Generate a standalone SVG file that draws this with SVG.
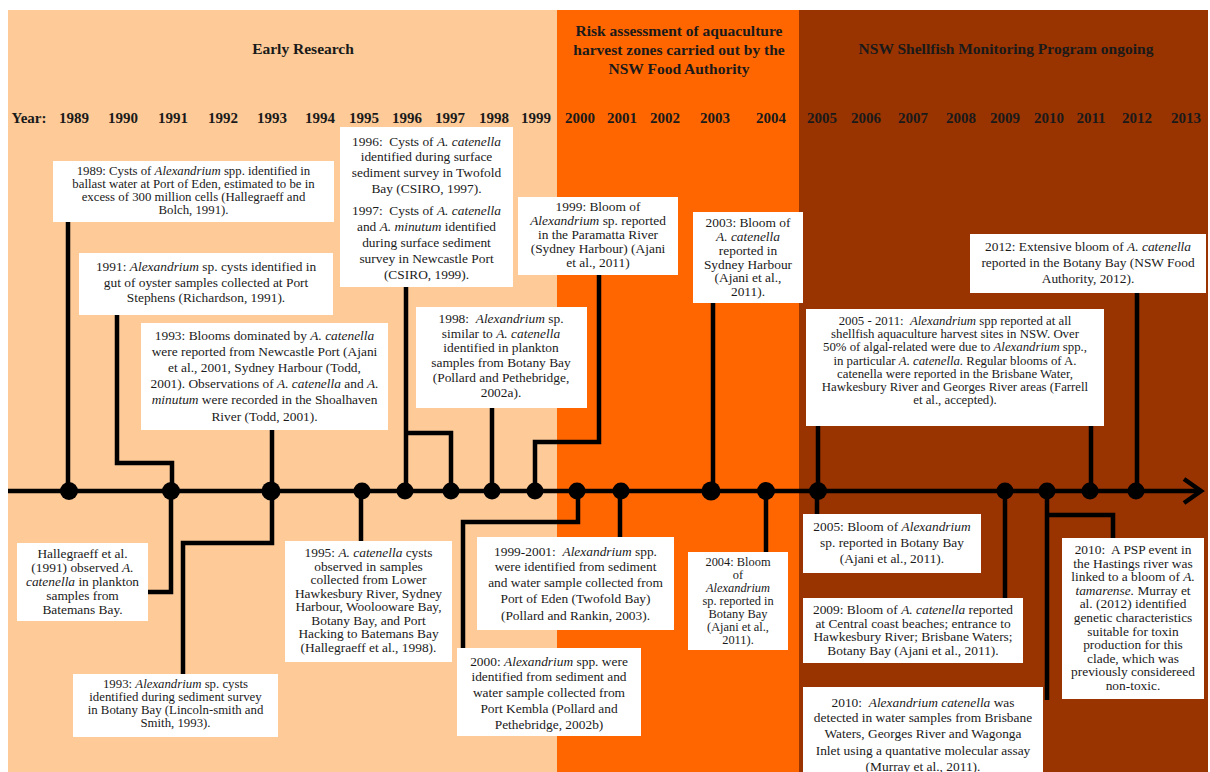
<svg xmlns="http://www.w3.org/2000/svg" width="1210" height="772" viewBox="0 0 1210 772">
<style>
.t{font-family:"Liberation Serif","Times New Roman",serif;font-size:13.4px;fill:#1a1a1a;text-anchor:middle}
.s{font-size:12.8px}
.xs{font-size:12.4px}
.i{font-style:italic}
.h{font-family:"Liberation Serif","Times New Roman",serif;font-weight:bold;font-size:15.5px;fill:#1a1a1a;text-anchor:middle}
.yr{font-family:"Liberation Serif","Times New Roman",serif;font-weight:bold;font-size:15px;fill:#1a1a1a;text-anchor:middle}
.box{fill:#ffffff}
.c{stroke:#000;stroke-width:4.5;fill:none;stroke-linejoin:miter;stroke-linecap:butt}
.dot{fill:#000}
</style>
<g id="background">
<rect x="8" y="10" width="549" height="762" fill="#FDCA98"/>
<rect x="557" y="10" width="242" height="762" fill="#FF6600"/>
<rect x="799" y="10" width="409" height="762" fill="#993300"/>
</g>
<g id="headers">
<text class="h" x="303" y="54">Early Research</text>
<text class="h" x="679" y="36">Risk assessment of aquaculture</text>
<text class="h" x="679" y="55">harvest zones carried out by the</text>
<text class="h" x="679" y="74">NSW Food Authority</text>
<text class="h" x="1006" y="54">NSW Shellfish Monitoring Program ongoing</text>
</g>
<g id="years">
<text class="yr" x="29" y="123">Year:</text>
<text class="yr" x="74" y="123">1989</text>
<text class="yr" x="123" y="123">1990</text>
<text class="yr" x="173" y="123">1991</text>
<text class="yr" x="223" y="123">1992</text>
<text class="yr" x="272" y="123">1993</text>
<text class="yr" x="320" y="123">1994</text>
<text class="yr" x="364" y="123">1995</text>
<text class="yr" x="407" y="123">1996</text>
<text class="yr" x="450" y="123">1997</text>
<text class="yr" x="494" y="123">1998</text>
<text class="yr" x="536" y="123">1999</text>
<text class="yr" x="580" y="123">2000</text>
<text class="yr" x="622" y="123">2001</text>
<text class="yr" x="665" y="123">2002</text>
<text class="yr" x="715" y="123">2003</text>
<text class="yr" x="771" y="123">2004</text>
<text class="yr" x="822" y="123">2005</text>
<text class="yr" x="866" y="123">2006</text>
<text class="yr" x="913" y="123">2007</text>
<text class="yr" x="961" y="123">2008</text>
<text class="yr" x="1005" y="123">2009</text>
<text class="yr" x="1049" y="123">2010</text>
<text class="yr" x="1091" y="123">2011</text>
<text class="yr" x="1137" y="123">2012</text>
<text class="yr" x="1186" y="123">2013</text>
</g>
<g id="connectors">
<path class="c" d="M68,222 V491"/>
<path class="c" d="M117,315 V463 H172 V491"/>
<path class="c" d="M272,430 V491"/>
<path class="c" d="M406,287 V491 M406,433 H451 V491"/>
<path class="c" d="M492,408 V491"/>
<path class="c" d="M599,275 V442 H535 V491"/>
<path class="c" d="M713,303 V491"/>
<path class="c" d="M818,426 V491"/>
<path class="c" d="M1091,426 V491"/>
<path class="c" d="M1137,293 V491"/>
<path class="c" d="M171,491 V592 H148"/>
<path class="c" d="M272,491 V543 H183 V674"/>
<path class="c" d="M361,491 V541"/>
<path class="c" d="M578,491 V522 H463 V648"/>
<path class="c" d="M620,491 V537"/>
<path class="c" d="M766,491 V552"/>
<path class="c" d="M817,491 V514"/>
<path class="c" d="M1005,491 V598"/>
<path class="c" d="M1047,491 V700 M1047,515 H1113 V538"/>
<path class="c" stroke-width="5" d="M8,491 H1199"/>
<path class="c" stroke-width="5" d="M1184,479 L1201,491 L1184,503"/>
</g>
<g id="dots">
<circle class="dot" cx="69" cy="491" r="9"/>
<circle class="dot" cx="171" cy="491" r="9"/>
<circle class="dot" cx="271" cy="491" r="9.5"/>
<circle class="dot" cx="362" cy="491" r="8.5"/>
<circle class="dot" cx="405" cy="491" r="8.5"/>
<circle class="dot" cx="451" cy="491" r="8.5"/>
<circle class="dot" cx="492" cy="491" r="8.5"/>
<circle class="dot" cx="535" cy="491" r="8.5"/>
<circle class="dot" cx="577" cy="491" r="8.5"/>
<circle class="dot" cx="621" cy="491" r="8.5"/>
<circle class="dot" cx="711" cy="491" r="9.5"/>
<circle class="dot" cx="766" cy="491" r="9"/>
<circle class="dot" cx="818" cy="491" r="9"/>
<circle class="dot" cx="1005" cy="491" r="8.5"/>
<circle class="dot" cx="1047" cy="491" r="8.5"/>
<circle class="dot" cx="1090" cy="491" r="8.5"/>
<circle class="dot" cx="1136" cy="491" r="8.5"/>
</g>
<g id="n1989">
<rect class="box" x="53" y="161" width="281" height="61"/>
<text class="t s"><tspan x="193.5" y="175">1989: Cysts of <tspan class="i">Alexandrium</tspan> spp. identified in</tspan><tspan x="193.5" y="188">ballast water at Port of Eden, estimated to be in</tspan><tspan x="193.5" y="201">excess of 300 million cells (Hallegraeff and</tspan><tspan x="193.5" y="214">Bolch, 1991).</tspan></text>
</g>
<g id="n1991">
<rect class="box" x="79" y="253" width="254" height="62"/>
<text class="t"><tspan x="206" y="271">1991: <tspan class="i">Alexandrium</tspan> sp. cysts identified in</tspan><tspan x="206" y="286.5">gut of oyster samples collected at Port</tspan><tspan x="206" y="302">Stephens (Richardson, 1991).</tspan></text>
</g>
<g id="n1993a">
<rect class="box" x="141" y="323" width="247" height="107"/>
<text class="t"><tspan x="264.5" y="340">1993: Blooms dominated by <tspan class="i">A. catenella</tspan></tspan><tspan x="264.5" y="356">were reported from Newcastle Port (Ajani</tspan><tspan x="264.5" y="372">et al., 2001, Sydney Harbour (Todd,</tspan><tspan x="264.5" y="388">2001). Observations of <tspan class="i">A. catenella</tspan> and <tspan class="i">A.</tspan></tspan><tspan x="264.5" y="404"><tspan class="i">minutum</tspan> were recorded in the Shoalhaven</tspan><tspan x="264.5" y="421">River (Todd, 2001).</tspan></text>
</g>
<g id="n1996">
<rect class="box" x="340" y="127" width="173" height="160"/>
<text class="t"><tspan x="426.5" y="146">1996:&#160; Cysts of <tspan class="i">A. catenella</tspan></tspan><tspan x="426.5" y="161">identified during surface</tspan><tspan x="426.5" y="177">sediment survey in Twofold</tspan><tspan x="426.5" y="193">Bay (CSIRO, 1997).</tspan><tspan x="426.5" y="215">1997:&#160; Cysts of <tspan class="i">A. catenella</tspan></tspan><tspan x="426.5" y="231">and <tspan class="i">A. minutum</tspan> identified</tspan><tspan x="426.5" y="247">during surface sediment</tspan><tspan x="426.5" y="263">survey in Newcastle Port</tspan><tspan x="426.5" y="279">(CSIRO, 1999).</tspan></text>
</g>
<g id="n1998">
<rect class="box" x="416" y="307" width="171" height="101"/>
<text class="t"><tspan x="501" y="323">1998:&#160; <tspan class="i">Alexandrium</tspan> sp.</tspan><tspan x="501" y="337.5">similar to <tspan class="i">A. catenella</tspan></tspan><tspan x="501" y="352">identified in plankton</tspan><tspan x="501" y="367">samples from Botany Bay</tspan><tspan x="501" y="382">(Pollard and Pethebridge,</tspan><tspan x="501" y="397">2002a).</tspan></text>
</g>
<g id="n1999">
<rect class="box" x="518" y="197" width="160" height="78"/>
<text class="t"><tspan x="598" y="211">1999: Bloom of</tspan><tspan x="598" y="225"><tspan class="i">Alexandrium</tspan> sp. reported</tspan><tspan x="598" y="239">in the Paramatta River</tspan><tspan x="598" y="253">(Sydney Harbour) (Ajani</tspan><tspan x="598" y="267">et al., 2011)</tspan></text>
</g>
<g id="n2003">
<rect class="box" x="693" y="212" width="110" height="91"/>
<text class="t"><tspan x="748" y="227">2003: Bloom of</tspan><tspan x="748" y="241" class="i">A. catenella</tspan><tspan x="748" y="255">reported in</tspan><tspan x="748" y="268.5">Sydney Harbour</tspan><tspan x="748" y="282">(Ajani et al.,</tspan><tspan x="748" y="295.5">2011).</tspan></text>
</g>
<g id="n2012">
<rect class="box" x="970" y="234" width="236" height="59"/>
<text class="t"><tspan x="1088" y="251">2012: Extensive bloom of <tspan class="i">A. catenella</tspan></tspan><tspan x="1088" y="267">reported in the Botany Bay (NSW Food</tspan><tspan x="1088" y="283">Authority, 2012).</tspan></text>
</g>
<g id="n2005_2011">
<rect class="box" x="806" y="309" width="298" height="117"/>
<text class="t s"><tspan x="955" y="325">2005 - 2011:&#160; <tspan class="i">Alexandrium</tspan> spp reported at all</tspan><tspan x="955" y="338.2">shellfish aquaculture harvest sites in NSW. Over</tspan><tspan x="955" y="351.4">50% of algal-related were due to <tspan class="i">Alexandrium</tspan> spp.,</tspan><tspan x="955" y="364.6">in particular <tspan class="i">A. catenella.</tspan> Regular blooms of A.</tspan><tspan x="955" y="377.8">catenella were reported in the Brisbane Water,</tspan><tspan x="955" y="391">Hawkesbury River and Georges River areas (Farrell</tspan><tspan x="955" y="404.2">et al., accepted).</tspan></text>
</g>
<g id="n1991b">
<rect class="box" x="17" y="543" width="131" height="78"/>
<text class="t"><tspan x="82.5" y="558">Hallegraeff et al.</tspan><tspan x="82.5" y="572">(1991) observed <tspan class="i">A.</tspan></tspan><tspan x="82.5" y="586"><tspan class="i">catenella</tspan> in plankton</tspan><tspan x="82.5" y="600">samples from</tspan><tspan x="82.5" y="614">Batemans Bay.</tspan></text>
</g>
<g id="n1993b">
<rect class="box" x="73" y="674" width="205" height="63"/>
<text class="t s"><tspan x="175.5" y="687.5">1993: <tspan class="i">Alexandrium</tspan> sp. cysts</tspan><tspan x="175.5" y="700.7">identified during sediment survey</tspan><tspan x="175.5" y="713.9">in Botany Bay (Lincoln-smith and</tspan><tspan x="175.5" y="727.1">Smith, 1993).</tspan></text>
</g>
<g id="n1995">
<rect class="box" x="285" y="541" width="167" height="121"/>
<text class="t"><tspan x="368.5" y="557">1995: <tspan class="i">A. catenella</tspan> cysts</tspan><tspan x="368.5" y="570.5">observed in samples</tspan><tspan x="368.5" y="584">collected from Lower</tspan><tspan x="368.5" y="597.5">Hawkesbury River, Sydney</tspan><tspan x="368.5" y="611">Harbour, Woolooware Bay,</tspan><tspan x="368.5" y="624.5">Botany Bay, and Port</tspan><tspan x="368.5" y="638">Hacking to Batemans Bay</tspan><tspan x="368.5" y="651.5">(Hallegraeff et al., 1998).</tspan></text>
</g>
<g id="n1999_2001">
<rect class="box" x="477" y="537" width="197" height="93"/>
<text class="t"><tspan x="575.5" y="556">1999-2001:&#160; <tspan class="i">Alexandrium</tspan> spp.</tspan><tspan x="575.5" y="571">were identified from sediment</tspan><tspan x="575.5" y="587">and water sample collected from</tspan><tspan x="575.5" y="603">Port of Eden (Twofold Bay)</tspan><tspan x="575.5" y="620">(Pollard and Rankin, 2003).</tspan></text>
</g>
<g id="n2000">
<rect class="box" x="457" y="648" width="184" height="88"/>
<text class="t"><tspan x="549" y="666">2000: <tspan class="i">Alexandrium</tspan> spp. were</tspan><tspan x="549" y="681">identified from sediment and</tspan><tspan x="549" y="697">water sample collected from</tspan><tspan x="549" y="713">Port Kembla (Pollard and</tspan><tspan x="549" y="729">Pethebridge, 2002b)</tspan></text>
</g>
<g id="n2004">
<rect class="box" x="688" y="552" width="100" height="98"/>
<text class="t xs"><tspan x="738" y="566">2004: Bloom</tspan><tspan x="738" y="579">of</tspan><tspan x="738" y="592" class="i">Alexandrium</tspan><tspan x="738" y="605">sp. reported in</tspan><tspan x="738" y="618">Botany Bay</tspan><tspan x="738" y="631">(Ajani et al.,</tspan><tspan x="738" y="644">2011).</tspan></text>
</g>
<g id="n2005">
<rect class="box" x="803" y="514" width="178" height="59"/>
<text class="t"><tspan x="892" y="531">2005: Bloom of <tspan class="i">Alexandrium</tspan></tspan><tspan x="892" y="547">sp. reported in Botany Bay</tspan><tspan x="892" y="563">(Ajani et al., 2011).</tspan></text>
</g>
<g id="n2009">
<rect class="box" x="803" y="598" width="220" height="65"/>
<text class="t"><tspan x="913" y="614">2009: Bloom of <tspan class="i">A. catenella</tspan> reported</tspan><tspan x="913" y="627.5">at Central coast beaches; entrance to</tspan><tspan x="913" y="641">Hawkesbury River; Brisbane Waters;</tspan><tspan x="913" y="655">Botany Bay (Ajani et al., 2011).</tspan></text>
</g>
<g id="n2010a">
<rect class="box" x="803" y="687" width="240" height="90"/>
<text class="t"><tspan x="923" y="707">2010:&#160; <tspan class="i">Alexandrium catenella</tspan> was</tspan><tspan x="923" y="722">detected in water samples from Brisbane</tspan><tspan x="923" y="738">Waters, Georges River and Wagonga</tspan><tspan x="923" y="755">Inlet using a quantative molecular assay</tspan><tspan x="923" y="771">(Murray et al., 2011).</tspan></text>
</g>
<g id="n2010b">
<rect class="box" x="1062" y="538" width="142" height="161"/>
<text class="t"><tspan x="1133" y="554">2010:&#160; A PSP event in</tspan><tspan x="1133" y="567.6">the Hastings river was</tspan><tspan x="1133" y="581.2">linked to a bloom of <tspan class="i">A.</tspan></tspan><tspan x="1133" y="594.8"><tspan class="i">tamarense.</tspan> Murray et</tspan><tspan x="1133" y="608.4">al. (2012) identified</tspan><tspan x="1133" y="622">genetic characteristics</tspan><tspan x="1133" y="635.6">suitable for toxin</tspan><tspan x="1133" y="649.2">production for this</tspan><tspan x="1133" y="662.8">clade, which was</tspan><tspan x="1133" y="676.4">previously considereed</tspan><tspan x="1133" y="690">non-toxic.</tspan></text>
</g>
</svg>
